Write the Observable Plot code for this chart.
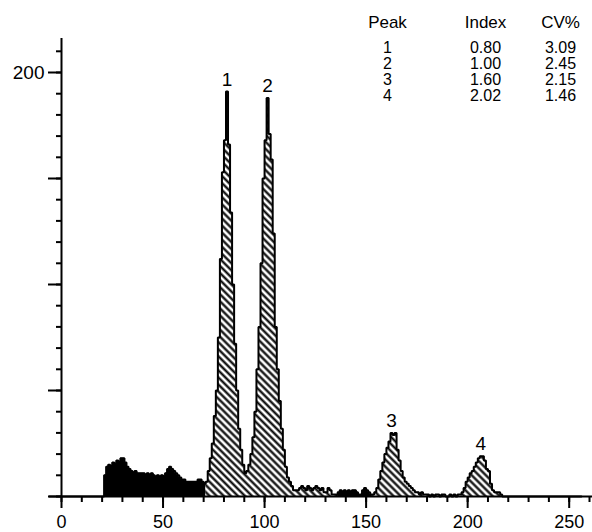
<!DOCTYPE html>
<html><head><meta charset="utf-8">
<script src="https://cdn.jsdelivr.net/npm/d3@7"></script>
<script src="https://cdn.jsdelivr.net/npm/@observablehq/plot@0.6"></script>
<style>body{margin:0;background:#fff} svg{display:block}</style>
</head><body><div id="chart"></div>
<script>
// ---------- DATA ----------
// DNA histogram counts per channel (channel 0 .. 255)
const counts = [
  0,0,0,0,0,0,0,0,0,0, 0,0,0,0,0,0,0,0,0,0, 0,                 // 0-20
  10,14,15,14,16,15,17,16,18,18, 16,14,13,12,11,12,11,11,11,11, // 21-40
  10,11,10,11,10,9,10,9,10,9, 11,13,14,13,12,11,10,9,8,8,       // 41-60
  7,7,7,7,7,7,8,8,7,6,                                          // 61-70
  7,12,18,25,38,50,75,112,153,168, 191,166,134,100,72,50,32,22,15,11, // 71-90
  12,15,20,28,40,60,80,110,150,168, 188,171,159,124,80,60,45,32,22,14, // 91-110
  9,7,5,3,3,                                                    // 111-115
  3,4,5,4,3,5,4,3,4,5, 4,3,4,2,2,4,3,1,1,1,                     // 116-135
  2,3,2,3,2,3,2,3,3,2, 1,1,3,4,3,2,1,                           // 136-152
  1,2,4,8,12,16,20,23,26,30, 29,30,22,17,12,9,7,6,5,4, 3,2,2,1,2,1, // 153-178
  1,1,0,1,0,1,1,0,1,1,0,0,1,0,1,0,1,                            // 179-195
  1,2,4,7,9,11,12,14,16,18, 19,19,17,13,12,6,3,2,2,2, 1,        // 196-216
  0,0,0,0,0,0,0,0,0,0, 0,0,0,0,0,0,0,0,0,0,                     // 217-236
  0,0,0,0,0,0,0,0,0,0, 0,0,0,0,0,0,0,0,0                        // 237-255
];
// channel ranges drawn solid black (debris); the rest is hatched
const blackRanges = [[21, 70], [136, 152]];

const peakIds = ["1", "2", "3", "4"];
const peakChannel = [81, 101, 162, 206];
const peakIndex = ["0.80", "1.00", "1.60", "2.02"];
const peakCV = ["3.09", "2.45", "2.15", "1.46"];
const tableHeaders = ["Peak", "Index", "CV%"];

const xMajorTicks = [0, 50, 100, 150, 200, 250];
const xMinorTicks = [0,10,20,30,40,50,60,70,80,90,100,110,120,130,140,150,160,170,180,190,200,210,220,230,240,250,260];
const yMajorTicks = [0, 50, 100, 150, 200];
const yMinorTicks = [0,10,20,30,40,50,60,70,80,90,100,110,120,130,140,150,160,170,180,190,200,210];
const yTickLabels = [200];

// ---------- BUILD ----------
const bins = counts.map((n, ch) => ({ch, n, black: blackRanges.some(([a, b]) => ch >= a && ch <= b)}));
const pts = [...bins, {ch: counts.length, n: counts[counts.length - 1], black: false}];
const peaks = peakIds.map((id, i) => ({id, x: peakChannel[i] + 0.5, y: counts[peakChannel[i]]}));

const FONT = '"Liberation Sans", Arial, Helvetica, sans-serif';
const colDx = [326, 424, 499];      // table column centers relative to frame left
const tableColumns = [peakIds, peakIndex, peakCV];

const marks = [
  Plot.areaY(pts, {x: "ch", y: d => d.black ? 0 : d.n, curve: "step-after", fill: "url(#hatch)"}),
  Plot.areaY(pts, {x: "ch", y: d => d.black ? d.n : 0, curve: "step-after", fill: "black"}),
  Plot.line(pts, {x: "ch", y: "n", curve: "step-after", stroke: "black", strokeWidth: 2, strokeLinejoin: "miter"}),
  Plot.ruleY([0], {x1: -6, x2: 262, stroke: "black", strokeWidth: 2}),
  Plot.ruleX([0], {y1: 0, y2: 216, stroke: "black", strokeWidth: 2}),
  Plot.axisX({ticks: xMinorTicks, tickSize: 6, tickFormat: () => "", strokeWidth: 2}),
  Plot.axisX({ticks: xMajorTicks, tickSize: 12, tickPadding: 7, strokeWidth: 2, fontSize: 18, tickFormat: d => String(d)}),
  Plot.axisY({ticks: yMinorTicks, tickSize: 5, tickFormat: () => "", strokeWidth: 2}),
  Plot.axisY({ticks: yMajorTicks, tickSize: 13, tickPadding: 4, strokeWidth: 2, fontSize: 19,
              tickFormat: d => yTickLabels.includes(d) ? String(d) : ""}),
  Plot.text(peaks, {x: "x", y: "y", text: "id", dy: -6, lineAnchor: "bottom", fontSize: 19, fill: "black"}),
  ...tableHeaders.map((h, i) => Plot.text([h], {frameAnchor: "top-left", dx: colDx[i], dy: -45,
      lineAnchor: "bottom", textAnchor: "middle", fontSize: 17, fill: "black"})),
  ...tableColumns.map((col, i) => Plot.text([col.join("\n")], {frameAnchor: "top-left", dx: colDx[i], dy: 28,
      lineAnchor: "bottom", textAnchor: "middle", lineHeight: 0.98, fontSize: 16, fill: "black"}))
];

const svg = Plot.plot({
  width: 592,
  height: 532,
  marginLeft: 61,
  marginRight: 3,
  marginTop: 72,
  marginBottom: 36,
  x: {domain: [0, 260]},
  y: {domain: [0, 200]},
  style: {fontFamily: FONT, background: "white", color: "black"},
  marks
});

d3.select(svg).insert("defs", ":first-child").html(
  '<pattern id="hatch" patternUnits="userSpaceOnUse" width="5" height="5" patternTransform="rotate(45)">' +
  '<rect width="5" height="5" fill="white"/>' +
  '<line x1="0" y1="2.5" x2="5" y2="2.5" stroke="black" stroke-width="2.2"/></pattern>'
);
document.getElementById("chart").appendChild(svg);
</script>
</body></html>
